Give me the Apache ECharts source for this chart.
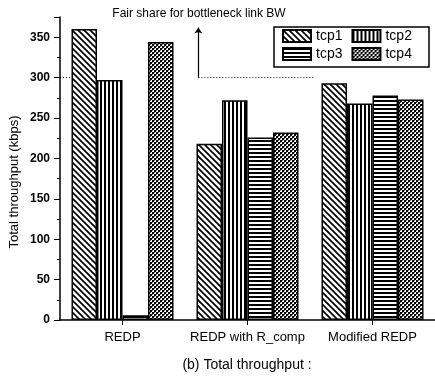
<!DOCTYPE html>
<html>
<head>
<meta charset="utf-8">
<script src="https://cdn.jsdelivr.net/npm/echarts@6/dist/echarts.min.js"></script>
<style>
  html, body { margin: 0; padding: 0; background: #fff; }
  #chart { width: 435px; height: 377px; }
</style>
</head>
<body>
<div id="chart"></div>
<script>
// Throughput per TCP flow for each scheme (kbps)
const categories = ['REDP', 'REDP with R_comp', 'Modified REDP'];
const seriesNames = ['tcp1', 'tcp2', 'tcp3', 'tcp4'];
const tcp1 = [360, 218, 293];
const tcp2 = [297, 272, 268];
const tcp3 = [6, 226, 278];
const tcp4 = [344, 232, 273];
const yTicks = [0, 50, 100, 150, 200, 250, 300, 350];
const fairShare = 300;

// Hatch fills drawn into small repeating canvases
function hatch(kind) {
  const s = kind === 'diag' ? 6 : 4;
  const c = document.createElement('canvas');
  c.width = s; c.height = s;
  const g = c.getContext('2d');
  g.fillStyle = '#fff';
  g.fillRect(0, 0, s, s);
  g.strokeStyle = '#000';
  g.fillStyle = '#000';
  if (kind === 'diag') {
    g.lineWidth = 1.7;
    g.beginPath();
    g.moveTo(-1, -1); g.lineTo(s + 1, s + 1);
    g.moveTo(-1, s - 1); g.lineTo(1, s + 1);
    g.moveTo(s - 1, -1); g.lineTo(s + 1, 1);
    g.stroke();
  } else if (kind === 'vert') {
    g.fillRect(0, 0, 2, s);
  } else if (kind === 'horiz') {
    g.fillRect(0, 0, s, 2);
  } else {
    g.fillRect(0, 0, 2, 2);
    g.fillRect(2, 2, 2, 2);
    g.fillStyle = '#666';
    g.fillRect(2, 0, 1, 1);
    g.fillRect(0, 2, 1, 1);
  }
  return { image: c, repeat: 'repeat' };
}

const fills = [hatch('diag'), hatch('vert'), hatch('horiz'), hatch('cross')];
const values = [tcp1, tcp2, tcp3, tcp4];

const barSeries = seriesNames.map((name, i) => ({
  name: name,
  type: 'bar',
  xAxisIndex: 0,
  data: values[i],
  barWidth: 25.5,
  barGap: '0%',
  itemStyle: { color: fills[i], borderColor: '#000', borderWidth: 1.5 },
  z: 3
}));

const chart = echarts.init(document.getElementById('chart'), null, { renderer: 'canvas' });

const legendCommon = {
  itemWidth: 28,
  itemHeight: 12,
  itemGap: 9,
  padding: 0,
  icon: 'rect',
  textStyle: { fontFamily: 'Liberation Sans, Arial', fontSize: 14, color: '#000' },
  selectedMode: false
};

chart.setOption({
  animation: false,
  backgroundColor: '#fff',
  textStyle: { fontFamily: 'Liberation Sans, Arial' },
  grid: { left: 60, top: 17, width: 380, bottom: 57 },
  legend: [
    Object.assign({ data: ['tcp1', 'tcp2'], left: 282, top: 29 }, legendCommon),
    Object.assign({ data: ['tcp3', 'tcp4'], left: 282, top: 47 }, legendCommon)
  ],
  graphic: [
    { type: 'rect', shape: { x: 274, y: 27, width: 155, height: 40 },
      style: { fill: 'none', stroke: '#000', lineWidth: 1.5 }, z: 10 },
    { type: 'text', x: 199, y: 14, style: {
        text: 'Fair share for bottleneck link BW',
        font: '12px Liberation Sans', fill: '#000', align: 'center', verticalAlign: 'middle' } },
    { type: 'text', x: 247, y: 365, style: {
        text: '(b) Total throughput :', font: '14px Liberation Sans', fill: '#000',
        align: 'center', verticalAlign: 'middle' } },
    { type: 'text', x: 14, y: 182, rotation: Math.PI / 2, style: {
        text: 'Total throughput (kbps)', font: '13px Liberation Sans', fill: '#000',
        align: 'center', verticalAlign: 'middle' } }
  ],
  xAxis: [
    {
      type: 'category',
      data: categories,
      axisLine: { lineStyle: { color: '#000', width: 1.5 } },
      axisTick: { show: true, alignWithLabel: true, length: 5, lineStyle: { color: '#000' } },
      axisLabel: { color: '#000', fontSize: 13, margin: 11, interval: 0 }
    },
    { type: 'value', min: 0, max: 3, show: false }
  ],
  yAxis: {
    type: 'value',
    min: 0,
    max: 375,
    interval: 50,
    axisLine: { show: true, lineStyle: { color: '#000', width: 1.5 } },
    axisTick: { show: true, length: 6, lineStyle: { color: '#000' } },
    minorTick: { show: true, splitNumber: 2, length: 3, lineStyle: { color: '#000' } },
    splitLine: { show: false },
    axisLabel: {
      color: '#000', fontSize: 12, fontWeight: 'bold', margin: 10, showMaxLabel: false,
      formatter: v => (yTicks.indexOf(v) >= 0 ? String(v) : '')
    }
  },
  series: barSeries.concat([
    {
      // fair-share reference level near the axis
      type: 'line', xAxisIndex: 1, symbol: 'none', silent: true, z: 1,
      data: [[0, fairShare], [0.09, fairShare]],
      lineStyle: { color: '#000', width: 1, type: [1, 2] }
    },
    {
      // fair-share level with arrow pointing to the annotation
      type: 'line', xAxisIndex: 1, symbol: 'none', silent: true, z: 1,
      data: [[1.107, fairShare], [2.04, fairShare]],
      lineStyle: { color: '#000', width: 1, type: [1, 2] },
      markLine: {
        silent: true,
        symbol: ['none', 'arrow'],
        symbolSize: 6,
        label: { show: false },
        lineStyle: { color: '#000', width: 1.2, type: 'solid' },
        data: [[{ coord: [1.107, fairShare] }, { coord: [1.107, 362] }]]
      }
    }
  ])
});
</script>
</body>
</html>
